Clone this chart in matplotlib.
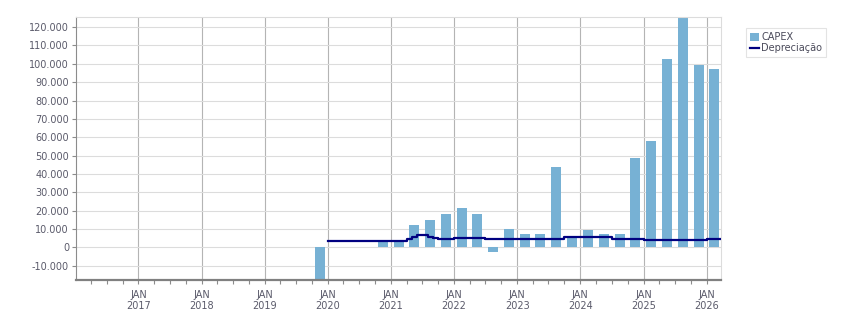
import numpy as np
import pandas as pd
import matplotlib
matplotlib.use('Agg')
import matplotlib.pyplot as plt
import matplotlib.dates as mdates
from matplotlib.ticker import FuncFormatter, MultipleLocator

# quarterly CAPEX, bars sit in the middle of each quarter
capex_dates = ['2019-11-15', '2020-11-15', '2021-02-15', '2021-05-15', '2021-08-15', '2021-11-15',
               '2022-02-15', '2022-05-15', '2022-08-15', '2022-11-15', '2023-02-15', '2023-05-15',
               '2023-08-15', '2023-11-15', '2024-02-15', '2024-05-15', '2024-08-15', '2024-11-15',
               '2025-02-15', '2025-05-15', '2025-08-15', '2025-11-15', '2026-02-15']
capex_values = [-22000, 3500, 3200, 12400, 15100, 17900,
                21700, 17900, -2700, 10200, 7500, 7500,
                43500, 6400, 9700, 7500, 7500, 48500,
                57800, 102600, 127000, 99300, 97100]

# depreciation (monthly, drawn as steps) - value changes only
dep_dates = ['2020-01-01', '2021-04-01', '2021-05-01', '2021-06-01', '2021-08-01', '2021-09-01',
             '2021-10-01', '2022-01-01', '2022-07-01', '2023-10-01', '2024-07-01', '2025-01-01',
             '2026-01-01', '2026-03-25']
dep_values = [3700, 4400, 5400, 6500, 5800, 5300,
              4750, 5300, 4750, 5450, 4750, 4200,
              4750, 4750]

bar_color = '#77b1d4'
line_color = '#000080'
txt_color = '#5a5a6a'

plt.rcParams['font.family'] = 'DejaVu Sans'
plt.rcParams['font.size'] = 7

fig = plt.figure(figsize=(8.51, 3.13), dpi=100)
ax = fig.add_axes([76/851, 1-280/313, (721-76)/851, (280-17)/313])

cx = pd.to_datetime(capex_dates)
dx = pd.to_datetime(dep_dates)

bars = ax.bar(cx, capex_values, width=58, color=bar_color, zorder=2, label='CAPEX')
line, = ax.step(dx, dep_values, where='post', color=line_color, lw=1.6, zorder=3, label='Depreciação')

ax.set_xlim(pd.Timestamp('2016-01-06'), pd.Timestamp('2026-03-25'))
ax.set_ylim(-17800, 125500)

ax.yaxis.set_major_locator(MultipleLocator(10000))
ax.yaxis.set_major_formatter(FuncFormatter(lambda v, p: '{:,.0f}'.format(v).replace(',', '.')))
ax.xaxis.set_major_locator(mdates.YearLocator())
ax.xaxis.set_major_formatter(mdates.DateFormatter('JAN\n%Y'))
ax.xaxis.set_minor_locator(mdates.MonthLocator(bymonth=[4, 7, 10]))

ax.set_axisbelow(True)
ax.grid(axis='y', color='#dcdcdc', lw=0.8)
ax.grid(axis='x', which='major', color='#b4b4b4', lw=0.8)

for s in ['top', 'right']:
    ax.spines[s].set_color('#dcdcdc')
    ax.spines[s].set_linewidth(0.8)
ax.spines['left'].set_color('#8c8c8c')
ax.spines['left'].set_linewidth(0.8)
ax.spines['bottom'].set_color('#808080')
ax.spines['bottom'].set_linewidth(1.6)

ax.tick_params(axis='y', length=3, width=0.8, color='#8c8c8c', labelcolor=txt_color, pad=2)
ax.tick_params(axis='x', which='major', length=3, width=0.8, color='#8c8c8c', labelcolor=txt_color, pad=4)
ax.tick_params(axis='x', which='minor', length=3, width=0.8, color='#8c8c8c')

leg = fig.legend([bars, line], ['CAPEX', 'Depreciação'], loc='upper left',
                 bbox_to_anchor=(746/851, 1-28/313), frameon=True, fancybox=False,
                 edgecolor='#dcdcdc', handlelength=0.9, handleheight=0.9, handletextpad=0.25,
                 labelspacing=0.15, borderpad=0.4, borderaxespad=0, fontsize=7)
for t in leg.get_texts():
    t.set_color('#4a4a5a')
leg.get_frame().set_linewidth(0.8)

fig.savefig('out.png', dpi=100)
